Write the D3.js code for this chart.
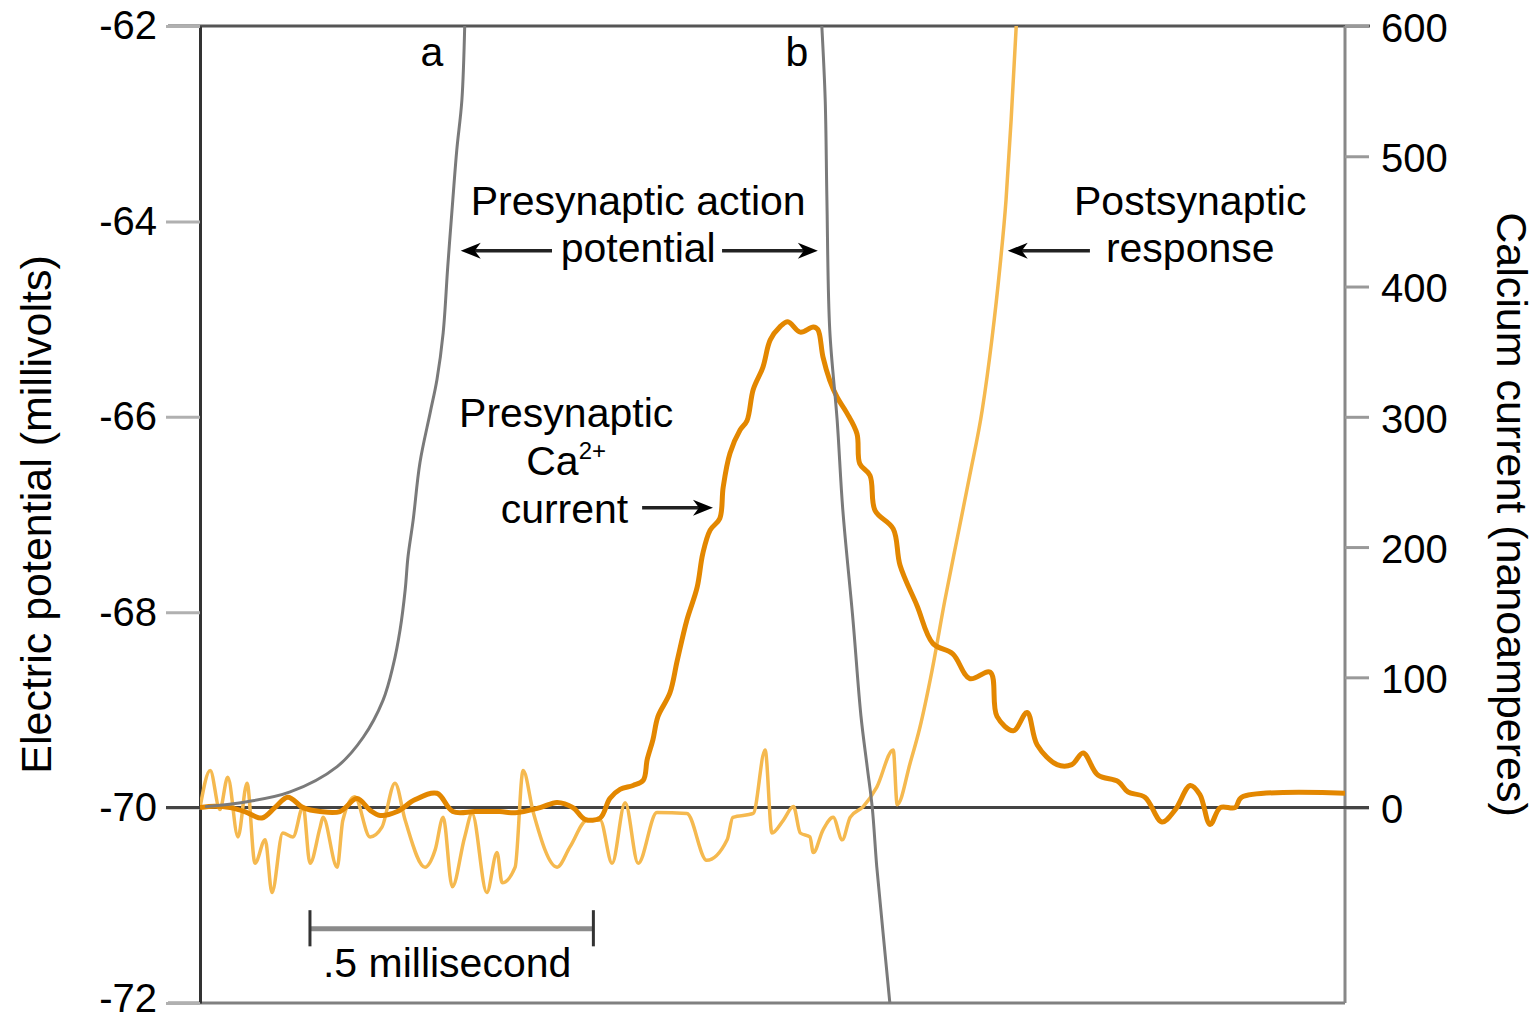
<!DOCTYPE html>
<html>
<head>
<meta charset="utf-8">
<script src="https://cdn.jsdelivr.net/npm/d3@7"></script>
<style>
  body { margin: 0; background: #fff; }
  text { font-family: "Liberation Sans", Arial, Helvetica, sans-serif; fill: #000; }
</style>
</head>
<body>
<script>
// ---- data (time in ms, potential in mV, current in nA) ----
const mvTicks = [-62, -64, -66, -68, -70, -72];
const naTicks = [0, 100, 200, 300, 400, 500, 600];

// presynaptic Ca2+ current (thick orange, right axis)
const caTime = [0, 0.026, 0.053, 0.079, 0.109, 0.132, 0.155, 0.182, 0.212, 0.247, 0.277, 0.300, 0.318, 0.348, 0.379, 0.418, 0.446, 0.485, 0.529, 0.556, 0.600, 0.630, 0.658, 0.679, 0.706, 0.723, 0.741, 0.764, 0.782, 0.789, 0.799, 0.808, 0.829, 0.842, 0.859, 0.877, 0.887, 0.900, 0.917, 0.923, 0.935, 0.953, 0.965, 0.976, 0.993, 1.006, 1.023, 1.037, 1.059, 1.082, 1.090, 1.099, 1.111, 1.124, 1.141, 1.159, 1.164, 1.182, 1.191, 1.223, 1.235, 1.265, 1.293, 1.328, 1.358, 1.394, 1.406, 1.435, 1.459, 1.477, 1.512, 1.538, 1.558, 1.584, 1.620, 1.637, 1.667, 1.697, 1.720, 1.747, 1.764, 1.782, 1.800, 1.826, 1.838, 2.020];
const caCurrent = [0, 1, 0, -3, -8, 0, 8, 0, -3, -3, 7, -2, -6, -3, 6, 11, -3, -3, -3, -4, 0, 4, 0, -9, -8, 7, 14, 17, 21, 37, 52, 70, 88, 113, 144, 169, 195, 213, 222, 246, 272, 290, 297, 321, 338, 359, 369, 373, 365, 369, 367, 346, 328, 315, 303, 287, 264, 255, 228, 214, 186, 155, 126, 118, 99, 104, 70, 59, 73, 48, 33, 33, 42, 25, 20, 12, 8, -11, -2, 17, 10, -13, 0, 0, 8, 11];

// presynaptic action potential, trace a (gray, left axis)
const aTime = [0.009, 0.083, 0.159, 0.242, 0.288, 0.323, 0.341, 0.353, 0.362, 0.367, 0.376, 0.388, 0.406, 0.418, 0.429, 0.437, 0.446, 0.453, 0.462, 0.467];
const aPotential = [-69.99, -69.94, -69.84, -69.58, -69.28, -68.90, -68.54, -68.18, -67.77, -67.43, -67.06, -66.47, -65.96, -65.62, -65.14, -64.47, -63.78, -63.27, -62.76, -62.00];

// presynaptic action potential, trace b (gray, left axis)
const bTime = [1.097, 1.103, 1.106, 1.111, 1.124, 1.134, 1.152, 1.166, 1.177, 1.186, 1.194, 1.205, 1.217];
const bPotential = [-62.00, -62.76, -63.78, -65.11, -66.03, -66.95, -68.08, -69.06, -69.58, -70.00, -70.61, -71.28, -72.00];

// postsynaptic response (light orange, left axis)
const postTime = [0.000, 0.018, 0.035, 0.049, 0.067, 0.083, 0.097, 0.115, 0.127, 0.146, 0.164, 0.182, 0.194, 0.212, 0.217, 0.242, 0.252, 0.273, 0.300, 0.321, 0.344, 0.362, 0.397, 0.415, 0.429, 0.445, 0.467, 0.480, 0.506, 0.524, 0.533, 0.556, 0.570, 0.588, 0.630, 0.653, 0.683, 0.706, 0.727, 0.750, 0.773, 0.806, 0.859, 0.894, 0.930, 0.940, 0.976, 0.997, 1.009, 1.029, 1.047, 1.059, 1.076, 1.082, 1.099, 1.117, 1.133, 1.147, 1.170, 1.194, 1.223, 1.230, 1.253, 1.270, 1.291, 1.314, 1.337, 1.358, 1.380, 1.397, 1.411, 1.422, 1.431, 1.440];
const postPotential = [-70.00, -69.62, -70.02, -69.69, -70.30, -69.75, -70.57, -70.33, -70.87, -70.26, -70.30, -69.99, -70.57, -70.20, -70.10, -70.61, -70.13, -69.89, -70.30, -70.20, -69.75, -70.13, -70.61, -70.43, -70.10, -70.81, -70.30, -70.06, -70.87, -70.46, -70.77, -70.61, -69.62, -70.05, -70.61, -70.40, -70.13, -70.13, -70.57, -69.95, -70.57, -70.05, -70.06, -70.54, -70.33, -70.10, -70.06, -69.41, -70.26, -70.13, -69.99, -70.26, -70.30, -70.46, -70.23, -70.10, -70.33, -70.10, -69.99, -69.79, -69.41, -69.97, -69.54, -69.18, -68.61, -67.88, -67.21, -66.60, -65.93, -65.21, -64.48, -63.78, -62.96, -62.00];

// ---- layout ----
const w = 1537, h = 1023;
const pL = 200, pR = 1345, pT = 26, pB = 1003;
const fontSize = 41, titleSize = 43;

const svg = d3.select("body").append("svg")
  .attr("width", w).attr("height", h);

const x = d3.scaleLinear().domain([0, 2.02]).range([pL, pR]);
const yMv = d3.scaleLinear().domain([-72, -62]).range([pB, pT]);
const yNa = d3.scaleLinear().domain([0, 600]).range([yMv(-70), pT]);

const pairs = (xs, ys) => xs.map((t, i) => [t, ys[i]]);

svg.append("defs").append("clipPath").attr("id", "plot")
  .append("rect").attr("x", pL).attr("y", pT).attr("width", pR - pL).attr("height", pB - pT);

// frame lines
svg.append("line").attr("x1", 168).attr("x2", pR + 25).attr("y1", pT).attr("y2", pT)
  .attr("stroke", "#555").attr("stroke-width", 3);
svg.append("line").attr("x1", 168).attr("x2", pR).attr("y1", pB).attr("y2", pB)
  .attr("stroke", "#808080").attr("stroke-width", 3);

// left axis
const leftAxis = svg.append("g")
  .attr("transform", `translate(${pL},0)`)
  .call(d3.axisLeft(yMv).tickValues(mvTicks).tickFormat(d => String(d))
    .tickSize(34).tickSizeOuter(0).tickPadding(9));
leftAxis.select(".domain").attr("stroke", "#333").attr("stroke-width", 3);
leftAxis.selectAll(".tick line").attr("stroke", "#b0b0b0").attr("stroke-width", 3);
leftAxis.selectAll(".tick text").attr("font-size", 40).attr("fill", "#000")
  .attr("dy", d => d === -72 ? "0.2em" : "0.32em")
  .style("font-family", "'Liberation Sans', Arial, sans-serif");

// right axis
svg.append("line").attr("x1", pR).attr("x2", pR).attr("y1", pT).attr("y2", pB)
  .attr("stroke", "#888").attr("stroke-width", 3);
const rightAxis = svg.append("g")
  .attr("transform", `translate(${pR},0)`)
  .call(d3.axisRight(yNa).tickValues(naTicks).tickSize(24).tickSizeOuter(0).tickPadding(12));
rightAxis.select(".domain").remove();
rightAxis.selectAll(".tick line").attr("stroke", "#999").attr("stroke-width", 3);
rightAxis.selectAll(".tick text").attr("font-size", 40).attr("fill", "#000").attr("dy", "0.38em")
  .style("font-family", "'Liberation Sans', Arial, sans-serif");

// resting level line (-70 mV / 0 nA)
svg.append("line").attr("x1", 166).attr("x2", pR + 24).attr("y1", yMv(-70)).attr("y2", yMv(-70))
  .attr("stroke", "#444").attr("stroke-width", 3);

// traces
const traces = svg.append("g").attr("clip-path", "url(#plot)");
const linePost = d3.line().x(d => x(d[0])).y(d => yMv(d[1])).curve(d3.curveMonotoneX);
const lineNa = d3.line().x(d => x(d[0])).y(d => yNa(d[1])).curve(d3.curveCatmullRom.alpha(0.5));
const lineGray = d3.line().x(d => x(d[0])).y(d => yMv(d[1])).curve(d3.curveCatmullRom.alpha(0.5));

traces.append("path").datum(pairs(postTime, postPotential))
  .attr("d", linePost).attr("fill", "none")
  .attr("stroke", "#f5b94f").attr("stroke-width", 3.5).attr("stroke-linejoin", "round");

traces.append("path").datum(pairs(caTime, caCurrent))
  .attr("d", lineNa).attr("fill", "none")
  .attr("stroke", "#e38700").attr("stroke-width", 5).attr("stroke-linejoin", "round");

[[aTime, aPotential], [bTime, bPotential]].forEach(([t, v]) => {
  traces.append("path").datum(pairs(t, v))
    .attr("d", lineGray)
    .attr("fill", "none").attr("stroke", "#7a7a7a").attr("stroke-width", 3);
});

// annotations
const ann = svg.append("g").attr("font-size", fontSize);
const label = (txt, t, mv, anchor = "middle") =>
  ann.append("text").attr("x", x(t)).attr("y", yMv(mv)).attr("text-anchor", anchor).text(txt);

function arrow(tTail, tTip, mv) {
  const x1 = x(tTail), x2 = x(tTip), y = yMv(mv);
  const dir = x2 > x1 ? 1 : -1;
  ann.append("line").attr("x1", x1).attr("x2", x2 - dir * 10).attr("y1", y).attr("y2", y)
    .attr("stroke", "#222").attr("stroke-width", 3.5);
  ann.append("path")
    .attr("d", `M${x2},${y} L${x2 - dir * 20},${y - 8} L${x2 - dir * 14},${y} L${x2 - dir * 20},${y + 8} Z`)
    .attr("fill", "#000");
}

label("a", 0.409, -62.41);
label("b", 1.053, -62.41);
label("Presynaptic action", 0.773, -63.93);
label("potential", 0.773, -64.42);
arrow(0.621, 0.460, -64.30);
arrow(0.921, 1.090, -64.30);

label("Postsynaptic", 1.747, -63.93);
label("response", 1.747, -64.42);
arrow(1.570, 1.425, -64.30);

label("Presynaptic", 0.646, -66.10);
const ca = label("Ca", 0.646, -66.60);
ca.append("tspan").attr("font-size", 24).attr("dy", -16).text("2+");
label("current", 0.643, -67.09);
arrow(0.780, 0.905, -66.93);

// scale bar
const barY = yMv(-71.24);
svg.append("line").attr("x1", x(0.194)).attr("x2", x(0.694)).attr("y1", barY).attr("y2", barY)
  .attr("stroke", "#8a8a8a").attr("stroke-width", 5);
[0.194, 0.694].forEach(t => {
  svg.append("line").attr("x1", x(t)).attr("x2", x(t)).attr("y1", yMv(-71.05)).attr("y2", yMv(-71.42))
    .attr("stroke", "#333").attr("stroke-width", 3);
});
label(".5 millisecond", 0.436, -71.73);

// axis titles
svg.append("text")
  .attr("transform", `translate(51,${(pT + pB) / 2}) rotate(-90)`)
  .attr("text-anchor", "middle").attr("font-size", titleSize)
  .text("Electric potential (millivolts)");
svg.append("text")
  .attr("transform", `translate(1497,${(pT + pB) / 2}) rotate(90)`)
  .attr("text-anchor", "middle").attr("font-size", titleSize)
  .text("Calcium current (nanoamperes)");
</script>
</body>
</html>
